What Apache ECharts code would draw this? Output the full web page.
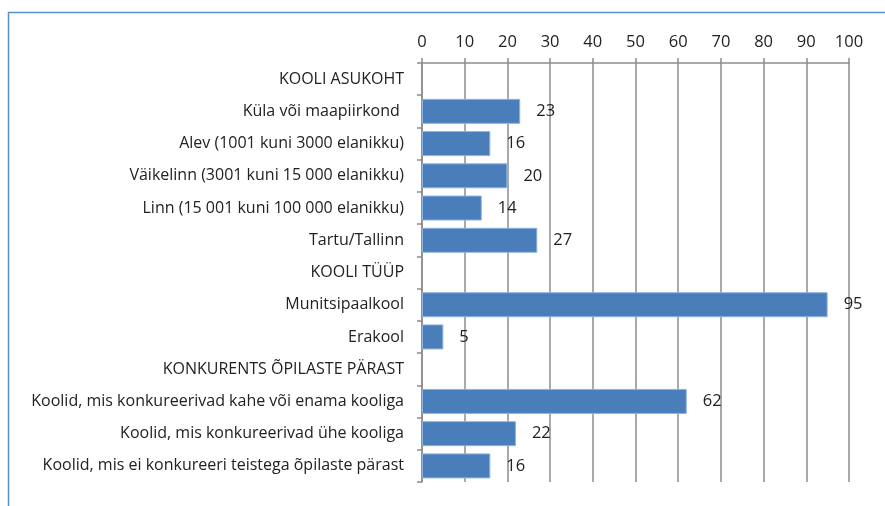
<!DOCTYPE html>
<html>
<head>
<meta charset="utf-8">
<script src="https://cdn.jsdelivr.net/npm/echarts@6/dist/echarts.min.js"></script>
<style>
  html, body { margin: 0; padding: 0; background: #fff; }
  #chart { width: 885px; height: 506px; }
</style>
</head>
<body>
<div id="chart"></div>
<script>
// categories top to bottom; headers have no bar
const categories = [
  'KOOLI ASUKOHT',
  'Küla või maapiirkond ',
  'Alev (1001 kuni 3000 elanikku)',
  'Väikelinn (3001 kuni 15 000 elanikku)',
  'Linn (15 001 kuni 100 000 elanikku)',
  'Tartu/Tallinn',
  'KOOLI TÜÜP',
  'Munitsipaalkool',
  'Erakool',
  'KONKURENTS ÕPILASTE PÄRAST',
  'Koolid, mis konkureerivad kahe või enama kooliga',
  'Koolid, mis konkureerivad ühe kooliga',
  'Koolid, mis ei konkureeri teistega õpilaste pärast'
];
const values = [null, 23, 16, 20, 14, 27, null, 95, 5, null, 62, 22, 16];

const font = '"Open Sans", sans-serif';
const chart = echarts.init(document.getElementById('chart'));

chart.setOption({
  animation: false,
  graphic: [{
    type: 'rect',
    shape: { x: 8.5, y: 12.5, width: 900, height: 520 },
    style: { fill: 'none', stroke: '#5b8fd0', lineWidth: 1.5 }
  }],
  grid: { left: 422, right: 36, top: 63, bottom: 24 },
  xAxis: {
    type: 'value',
    position: 'top',
    min: 0,
    max: 100,
    interval: 10,
    axisLine: { show: true, lineStyle: { color: '#8c8c8c', width: 1.5 } },
    axisTick: { show: true, inside: false, length: 5, lineStyle: { color: '#8c8c8c', width: 1.5 } },
    splitLine: { show: true, lineStyle: { color: '#8c8c8c', width: 1.5 } },
    axisLabel: { color: '#222', fontFamily: font, fontSize: 16.5, margin: 12 }
  },
  yAxis: {
    type: 'category',
    inverse: true,
    data: categories,
    axisLine: { show: true, lineStyle: { color: '#8c8c8c', width: 1.5 } },
    axisTick: { show: true, length: 5, lineStyle: { color: '#8c8c8c', width: 1.5 } },
    axisLabel: { color: '#222', fontFamily: font, fontSize: 16, margin: 18 }
  },
  series: [{
    type: 'bar',
    data: values,
    barWidth: 25,
    itemStyle: { color: '#4a7ebb', borderColor: '#8fb3e0', borderWidth: 1 },
    label: {
      show: true,
      position: 'right',
      distance: 16,
      color: '#222',
      fontFamily: font,
      fontSize: 16.5
    }
  }]
});
</script>
</body>
</html>
